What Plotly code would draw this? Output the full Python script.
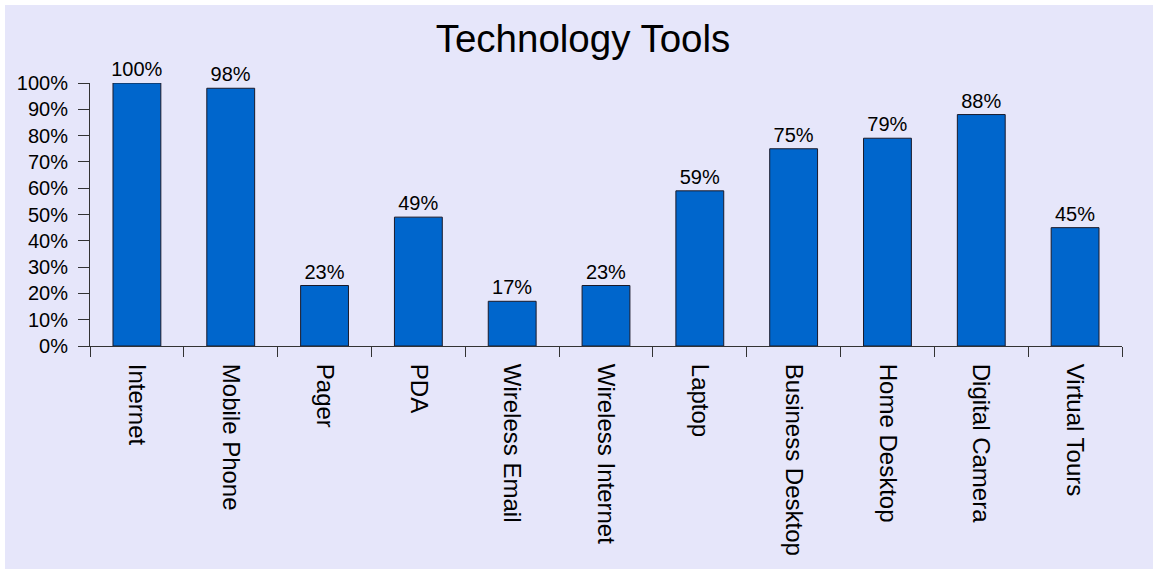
import plotly.graph_objects as go

# Share of respondents using each technology tool (percent)
categories = [
    "Internet", "Mobile Phone", "Pager", "PDA", "Wireless Email",
    "Wireless Internet", "Laptop", "Business Desktop", "Home Desktop",
    "Digital Camera", "Virtual Tours",
]
usage_pct = [100, 98, 23, 49, 17, 23, 59, 75, 79, 88, 45]
y_ticks = [0, 10, 20, 30, 40, 50, 60, 70, 80, 90, 100]

W, H = 1153, 569
ML, MR, MT, MB = 90, 31, 83, 223
plot_w = W - ML - MR
plot_h = H - MT - MB

FONT = "Arial, Liberation Sans, sans-serif"
LAVENDER = "#E6E6FA"
AXIS = "#333333"

fig = go.Figure(
    go.Bar(
        x=categories,
        y=usage_pct,
        marker=dict(color="#0066CC", line=dict(color="#1a1a2a", width=1)),
        text=[f"{v}%" for v in usage_pct],
        textposition="outside",
        constraintext="none",
        textfont=dict(family=FONT, size=20, color="black"),
        cliponaxis=False,
        hoverinfo="x+y",
    )
)

# Lavender panel behind the chart, leaving a thin white edge top and left
fig.add_shape(
    type="rect",
    xref="paper", yref="paper",
    x0=(5 - ML) / plot_w, x1=(W - ML) / plot_w,
    y0=-(H - MT - plot_h) / plot_h, y1=(plot_h + MT - 5) / plot_h,
    fillcolor=LAVENDER, line=dict(width=0), layer="below",
)

fig.update_layout(
    width=W,
    height=H,
    margin=dict(l=ML, r=MR, t=MT, b=MB, pad=0),
    paper_bgcolor="white",
    plot_bgcolor="rgba(0,0,0,0)",
    showlegend=False,
    bargap=0.49,
    title=dict(
        text="Technology Tools",
        x=583 / W, xanchor="center", xref="container",
        y=1 - 52 / H, yanchor="bottom", yref="container",
        font=dict(family=FONT, size=38.5, color="black"),
    ),
    font=dict(family=FONT, color="black"),
)

fig.update_xaxes(
    type="category",
    tickangle=90,
    tickson="boundaries",
    ticks="outside",
    ticklen=10,
    tickcolor=AXIS,
    showline=True,
    linecolor=AXIS,
    linewidth=1,
    showgrid=False,
    ticklabelstandoff=12,
    tickfont=dict(family=FONT, size=24, color="black"),
    automargin=False,
)

fig.update_yaxes(
    range=[0, 100],
    tickvals=y_ticks,
    ticktext=[f"{v}%" for v in y_ticks],
    ticks="outside",
    ticklen=11,
    tickcolor=AXIS,
    showline=True,
    linecolor=AXIS,
    linewidth=1,
    showgrid=False,
    zeroline=False,
    ticklabelstandoff=6,
    tickfont=dict(family=FONT, size=20, color="black"),
    automargin=False,
)

fig.write_html("out.html")
